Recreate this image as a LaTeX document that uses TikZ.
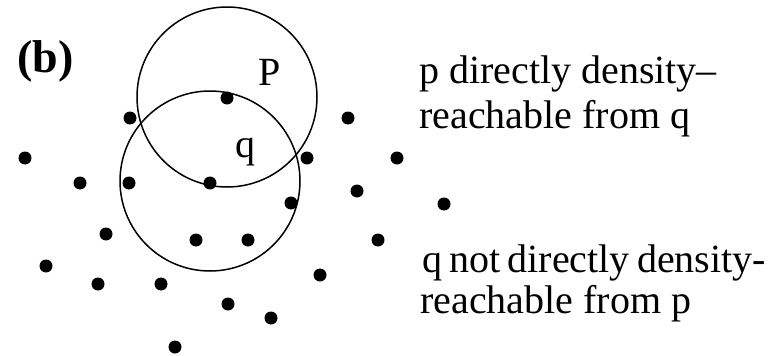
\documentclass[tikz,border=0pt]{standalone}
\usepackage{fontspec}
\setmainfont{Liberation Serif}
\begin{document}
\begin{tikzpicture}[x=1pt,y=-1pt,
  dot/.style={circle,fill=black,inner sep=0pt,minimum size=13pt},
  ring/.style={circle,draw=black,line width=1.5pt,inner sep=0pt,minimum size=180pt},
  lbl/.style={anchor=base west,inner sep=0pt,font=\fontsize{40}{40}\selectfont},
  ttl/.style={anchor=base west,inner sep=0pt,font=\fontsize{46}{46}\selectfont\bfseries}]
\useasboundingbox (0,0) rectangle (780,356);
\node[ring] (cp) at (227,97) {};
\node[ring] (cq) at (210,181) {};
\foreach \n/\x/\y in {p/227/98, d2/130/118, d3/348/118, d4/25/158, d5/307/158, d6/397/158,
  d7/80/183, d8/129/183, q/210/183, d10/357/191, d11/291/203, d12/444/204,
  d13/106/234, d14/196/240, d15/248/240, d16/378/240, d17/46/266, d18/320/275,
  d19/98/284, d20/161/284, d21/228/304, d22/271/318, d23/175/347}
  \node[dot] (\n) at (\x,\y) {};
\node[ttl] (title) at (17,72) {(b)};
\node[lbl] (lp) at (258,85) {P};
\node[lbl] (lq) at (235,157) {q};
\node[lbl] (t1) at (419,83) {p directly density–};
\node[lbl] (t2) at (419,128) {reachable from q};
\node[lbl] (t3) at (422,272) {\spaceskip=0.18em q not directly density-};
\node[lbl] (t4) at (420,313) {reachable from p};
\end{tikzpicture}
\end{document}
